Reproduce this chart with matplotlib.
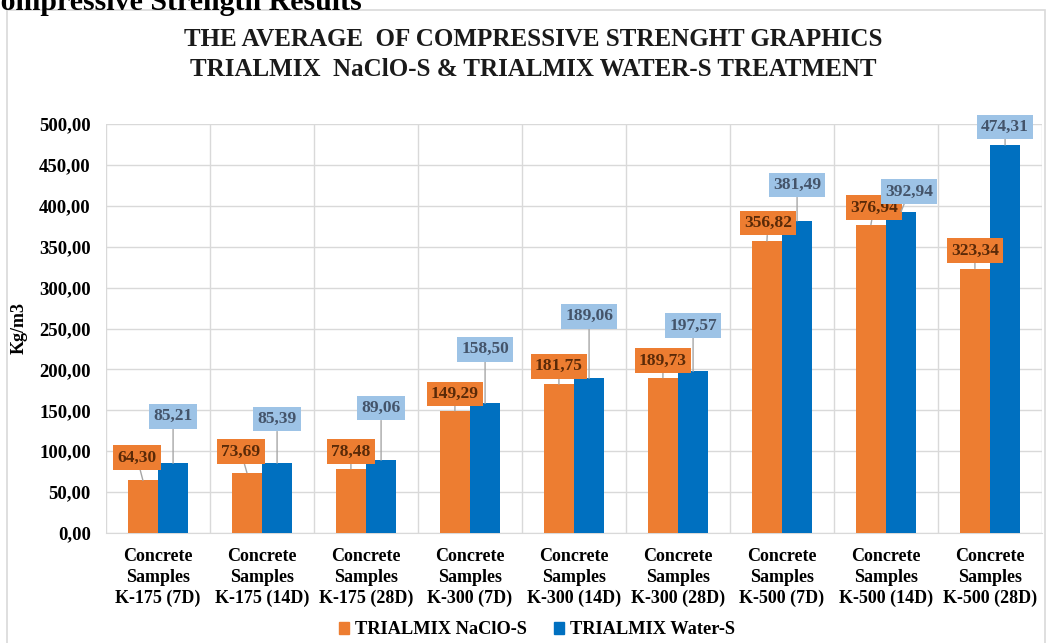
import matplotlib
matplotlib.use("Agg")
import matplotlib.pyplot as plt
import numpy as np
from matplotlib.patches import Rectangle, Patch
from matplotlib.ticker import FuncFormatter, FixedLocator

plt.rcParams['font.family'] = ['Liberation Serif', 'DejaVu Serif']
plt.rcParams['font.weight'] = 'bold'

# Data
categories = ["K-175 (7D)", "K-175 (14D)", "K-175 (28D)",
              "K-300 (7D)", "K-300 (14D)", "K-300 (28D)",
              "K-500 (7D)", "K-500 (14D)", "K-500 (28D)"]
naclo = [64.30, 73.69, 78.48, 149.29, 181.75, 189.73, 356.82, 376.94, 323.34]
water = [85.21, 85.39, 89.06, 158.50, 189.06, 197.57, 381.49, 392.94, 474.31]
series_names = ["TRIALMIX NaClO-S", "TRIALMIX Water-S"]

# label placement (pixel offsets of label centre from bar top)
naclo_off = [(-6, 23), (-6, 21), (0, 17), (0, 17), (0, 18), (0, 17), (1, 18), (3, 17), (0, 18)]
water_off = [(0, 47), (0, 44), (0, 52), (0, 54), (0, 62), (0, 46), (0, 36), (8, 20), (0, 18)]

c_orange = "#ED7D31"
c_blue = "#0070C0"

W, H = 1046, 643
fig = plt.figure(figsize=(W / 100, H / 100), dpi=100)
ax = fig.add_axes([106 / W, (H - 533) / H, (1042 - 106) / W, (533 - 124) / H])

x = np.arange(len(categories))
bw = 0.29
ax.bar(x - bw / 2, naclo, bw, color=c_orange, zorder=3)
ax.bar(x + bw / 2, water, bw, color=c_blue, zorder=3)

ax.set_xlim(-0.5, len(categories) - 0.5)
ax.set_ylim(0, 500)
ax.set_yticks(np.arange(0, 501, 50))
ax.yaxis.set_major_formatter(FuncFormatter(lambda v, p: f"{v:.2f}".replace(".", ",")))
ax.set_xticks(x)
ax.set_xticklabels(["Concrete\nSamples\n" + c for c in categories], fontsize=13,
                   linespacing=1.27)
ax.xaxis.set_minor_locator(FixedLocator(np.arange(-0.5, len(categories), 1)))
ax.tick_params(axis='both', which='both', length=0)
ax.tick_params(axis='x', pad=11)
ax.tick_params(axis='y', pad=11, labelsize=13.5)
ax.grid(axis='y', which='major', color='#D9D9D9', lw=1, zorder=0)
ax.grid(axis='x', which='minor', color='#D9D9D9', lw=1, zorder=0)
for s in ['top', 'right', 'left']:
    ax.spines[s].set_visible(False)
ax.spines['bottom'].set_color('#D9D9D9')

ax.set_ylabel("Kg/m3", fontsize=13, fontweight='bold')
ax.yaxis.set_label_coords((28 - 106) / (1042 - 106), 0.5)

def add_labels(xs, vals, offs, fc, tc):
    for xi, v, (dx, dy) in zip(xs, vals, offs):
        ax.annotate(f"{v:.2f}".replace(".", ","), xy=(xi, v), xytext=(dx, dy),
                    textcoords='offset pixels', ha='center', va='center',
                    fontsize=12.5, fontweight='bold', color=tc, zorder=5,
                    bbox=dict(boxstyle='square,pad=0.25', fc=fc, ec='none'),
                    arrowprops=dict(arrowstyle='-', color='#A6A6A6', lw=1,
                                    shrinkA=0, shrinkB=0))

add_labels(x - bw / 2, naclo, naclo_off, c_orange, '#5A2A08')
add_labels(x + bw / 2, water, water_off, '#9DC3E6', '#44546A')

# title
fig.text(533 / W, 1 - 40 / H, "THE AVERAGE  OF COMPRESSIVE STRENGHT GRAPHICS",
         ha='center', va='center', fontsize=18, fontweight='bold', color='#1A1A1A')
fig.text(533 / W, 1 - 70 / H, "TRIALMIX  NaClO-S & TRIALMIX WATER-S TREATMENT",
         ha='center', va='center', fontsize=18, fontweight='bold', color='#1A1A1A')

# legend
handles = [Patch(color=c_orange), Patch(color=c_blue)]
fig.legend(handles, series_names, loc='center', bbox_to_anchor=(537 / W, 1 - 630 / H),
           ncol=2, frameon=False, fontsize=13.2, handlelength=0.55, handleheight=0.55,
           handletextpad=0.3, columnspacing=1.5)

# chart frame and cut-off heading above it
fig.patches.append(Rectangle((7 / W, -0.1), (1045 - 7) / W, 1.1 - 10 / H,
                             transform=fig.transFigure, fill=False,
                             ec='#D9D9D9', lw=1.2))
fig.text(-21 / W, 1 - 10 / H, "Compressive Strength Results", ha='left',
         va='baseline', fontsize=21.5, fontweight='bold', color='black')

fig.savefig("out.png", dpi=100)
